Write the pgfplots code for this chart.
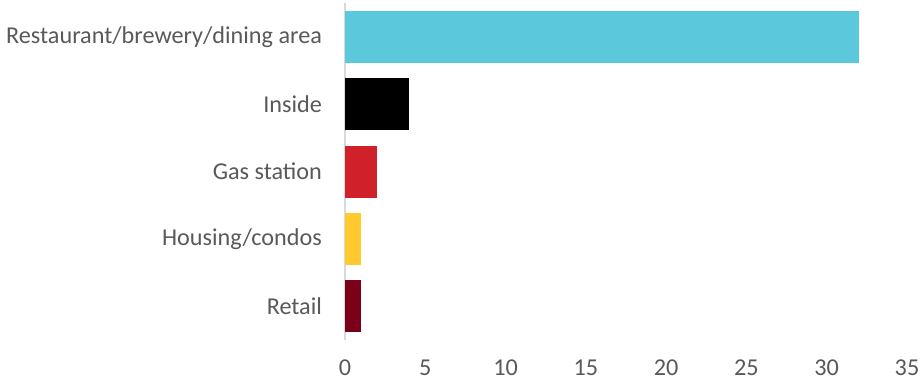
\documentclass[border=0pt]{standalone}
\usepackage{pgfplots}
\pgfplotsset{compat=1.18}
\usepackage{fontspec}
\setmainfont{Carlito}
\definecolor{cCyan}{RGB}{91,200,220}
\definecolor{cRed}{RGB}{208,32,42}
\definecolor{cYellow}{RGB}{255,202,45}
\definecolor{cDark}{RGB}{123,0,25}
\definecolor{txt}{RGB}{89,89,89}
\definecolor{axl}{RGB}{217,217,217}
\begin{document}
\begin{tikzpicture}
\begin{axis}[
  name=ax,
  scale only axis,
  width=281pt, height=168.5pt,
  xbar, bar width=26pt, bar shift=0pt,
  xmin=0, xmax=35, ymin=-0.5, ymax=4.5,
  xtick={0,5,...,35},
  ytick={0,1,2,3,4},
  yticklabels={Retail,Housing/condos,Gas station,Inside,Restaurant/brewery/dining area},
  axis x line*=bottom,
  x axis line style={draw=none},
  axis y line*=left,
  y axis line style={draw=axl, line width=0.8pt, -},
  major tick length=0pt,
  tick style={draw=none},
  ticklabel style={font=\fontsize{12.1}{14}\selectfont, text=txt},
  yticklabel style={xshift=-8pt},
  xticklabel style={yshift=-6.5pt},
  /pgf/number format/assume math mode=true,
  clip=false,
]
\addplot[fill=cDark, draw=none] coordinates {(1,0)};
\addplot[fill=cYellow, draw=none] coordinates {(1,1)};
\addplot[fill=cRed, draw=none] coordinates {(2,2)};
\addplot[fill=black, draw=none] coordinates {(4,3)};
\addplot[fill=cCyan, draw=none] coordinates {(32,4)};
\end{axis}
\pgfresetboundingbox
\useasboundingbox ([xshift=-172.5pt,yshift=-22.5pt]ax.south west) rectangle ([xshift=6.5pt,yshift=1.5pt]ax.north east);
\end{tikzpicture}
\end{document}
